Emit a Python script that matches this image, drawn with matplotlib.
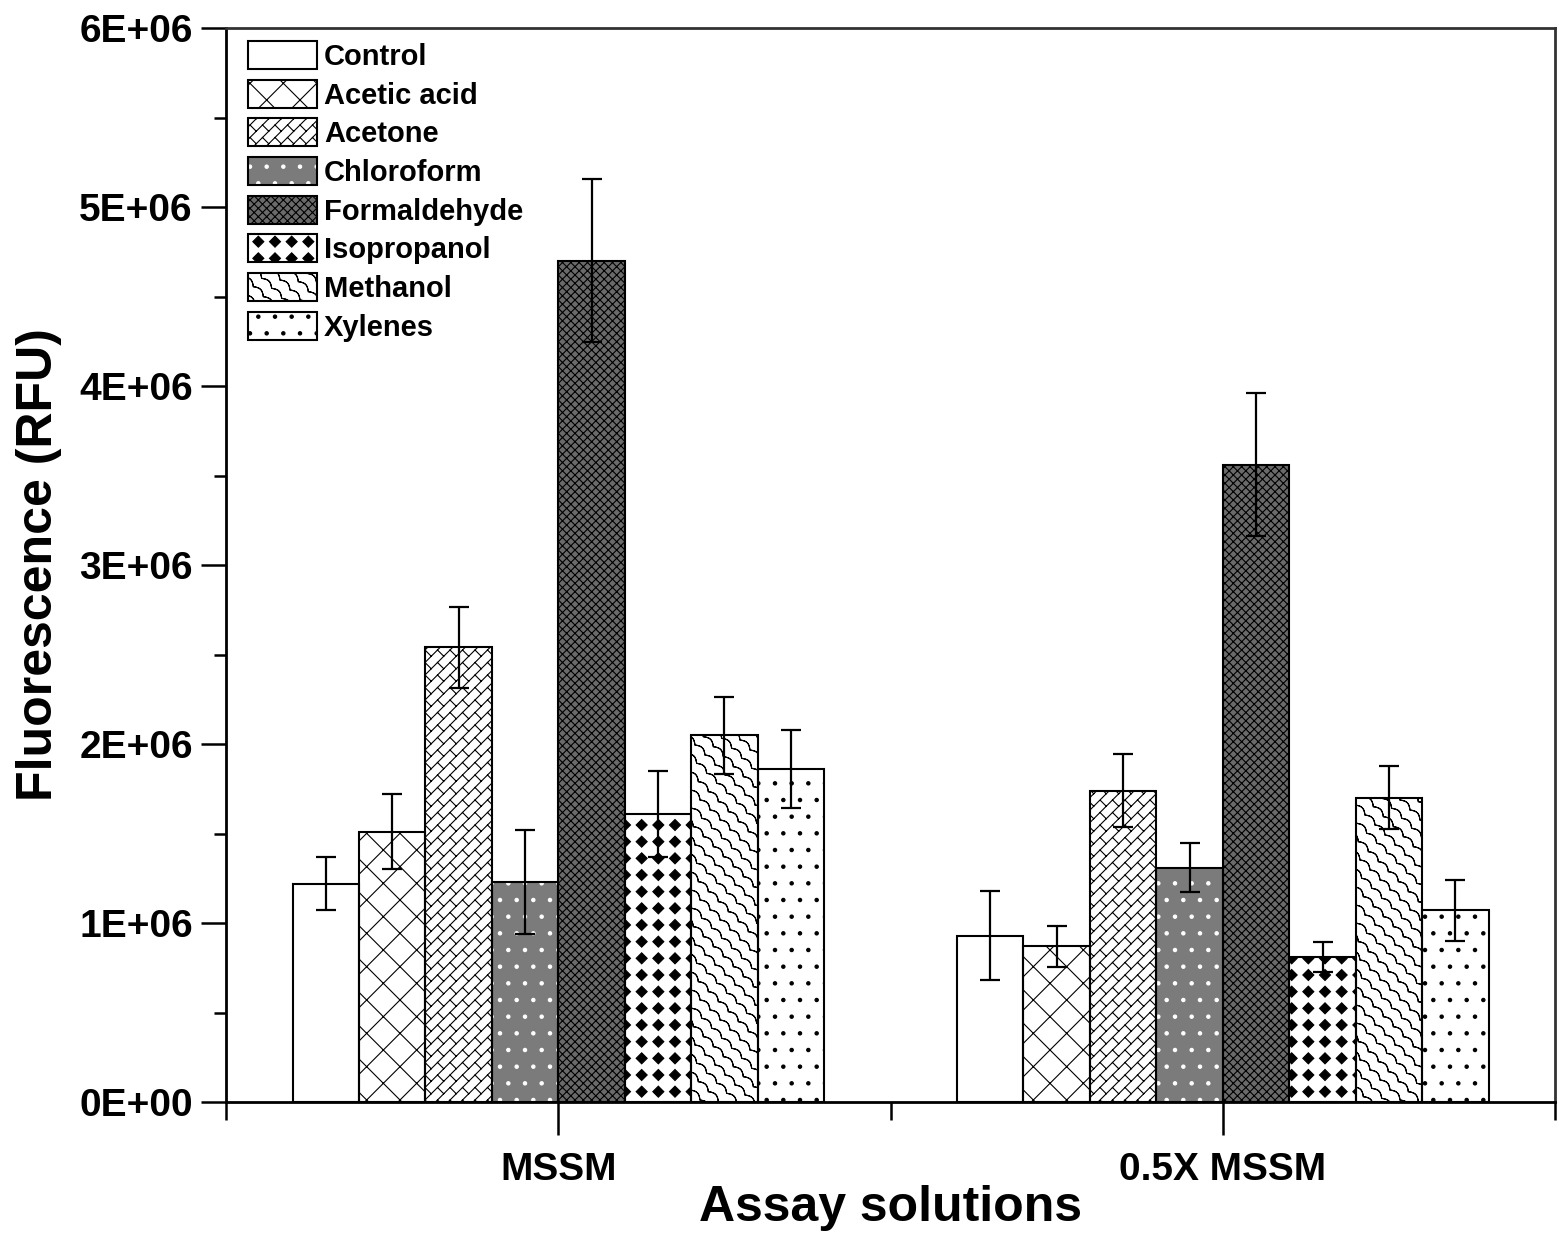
import numpy as np
import matplotlib
matplotlib.use("Agg")
import matplotlib.pyplot as plt
import matplotlib.hatch as mhatch
from matplotlib.path import Path
from matplotlib.ticker import FuncFormatter, MultipleLocator, FixedLocator


# Fluorescence (RFU), mean and error per solvent, for the two assay solutions
solutions = ["MSSM", "0.5X MSSM"]
solvents = ["Control", "Acetic acid", "Acetone", "Chloroform",
            "Formaldehyde", "Isopropanol", "Methanol", "Xylenes"]
mssm = [1.22e6, 1.51e6, 2.54e6, 1.23e6, 4.70e6, 1.61e6, 2.05e6, 1.86e6]
mssm_err = [0.15e6, 0.21e6, 0.225e6, 0.29e6, 0.455e6, 0.24e6, 0.215e6, 0.22e6]
half_mssm = [0.93e6, 0.87e6, 1.74e6, 1.31e6, 3.56e6, 0.81e6, 1.70e6, 1.07e6]
half_mssm_err = [0.25e6, 0.115e6, 0.205e6, 0.135e6, 0.40e6, 0.085e6, 0.175e6, 0.17e6]


# --- extra fill patterns (square diamond grid, wavy lines, diagonal bricks) ---
class DiamondGrid(mhatch.HatchPatternBase):
    """Filled diamonds on a square grid, one grid step per '*'."""
    def __init__(self, hatch, density):
        self.num_rows = hatch.count("*") * density
        self.num_vertices = 5 * self.num_rows ** 2

    def set_vertices_and_codes(self, vertices, codes):
        n = self.num_rows
        step = 1.0 / n
        r = 0.33 * step
        shape = np.array([[0, r], [r, 0], [0, -r], [-r, 0], [0, r]])
        c = (np.arange(n) + 0.5) * step
        cx, cy = np.meshgrid(c, c)
        centres = np.column_stack([cx.ravel(), cy.ravel()])
        vertices[:] = (shape[None, :, :] + centres[:, None, :]).reshape(-1, 2)
        one = [Path.MOVETO, Path.LINETO, Path.LINETO, Path.LINETO, Path.CLOSEPOLY]
        codes[:] = np.tile(one, n * n)


class WavyLines(mhatch.HatchPatternBase):
    """Scalloped lines running top-left to bottom-right, set by 'O'."""
    n_pts = 121

    def __init__(self, hatch, density):
        self.num_lines = hatch.count("O") * density
        self.num_vertices = (2 * self.num_lines + 1) * 2 * self.n_pts if self.num_lines else 0

    def set_vertices_and_codes(self, vertices, codes):
        m = self.num_lines
        u = np.linspace(-1, 1, self.n_pts)
        bump = 0.032 * np.abs(np.sin(np.pi * 5 * u)) / np.sqrt(2)
        parts = []
        for c in np.arange(2 * m + 1) / m:
            x = (c + u) / 2 + bump
            y = (c - u) / 2 + bump
            line = np.column_stack([x, y])
            parts.append(np.concatenate([line, line[::-1]]))
        vertices[:] = np.concatenate(parts)
        one = np.full(2 * self.n_pts, Path.LINETO, dtype=Path.code_type)
        one[0] = Path.MOVETO
        codes[:] = np.tile(one, 2 * m + 1)


class Bricks(mhatch.HatchPatternBase):
    """Diagonal brick courses ('/' rails with short '\\' joints), set by '|'."""
    def __init__(self, hatch, density):
        k = hatch.count("|")
        self.m = 8 * k
        self.q = 4
        if k:
            self.num_vertices = 2 * (2 * self.m + 1) + 2 * (2 * self.m) * (2 * self.q + 1)
        else:
            self.num_vertices = 0

    def set_vertices_and_codes(self, vertices, codes):
        m, q = self.m, self.q
        cs = np.arange(-m, m + 1) / m
        segs = []
        for c in cs:
            segs.append([[c / 2, -c / 2], [(2 + c) / 2, (2 - c) / 2]])
        for i in range(2 * m):
            c0, c1 = cs[i], cs[i + 1]
            shift = 0.5 / q if i % 2 else 0.0
            for j in range(2 * q + 1):
                v = j / q + shift
                segs.append([[(v + c0) / 2, (v - c0) / 2], [(v + c1) / 2, (v - c1) / 2]])
        vertices[:] = np.array(segs).reshape(-1, 2)
        codes[0::2] = Path.MOVETO
        codes[1::2] = Path.LINETO


swap = {mhatch.Stars: DiamondGrid, mhatch.LargeCircles: WavyLines,
        mhatch.VerticalHatch: Bricks}
mhatch._hatch_types = [swap.get(t, t) for t in mhatch._hatch_types]

plt.rcParams["font.family"] = ["Liberation Sans", "DejaVu Sans"]
plt.rcParams["font.weight"] = "bold"
plt.rcParams["axes.labelweight"] = "bold"
plt.rcParams["hatch.linewidth"] = 0.8

faces = ["white", "white", "white", "#7b7b7b", "#6a6a6a", "white", "white", "white"]
hatches = [None, "x", "|", ".", "xxxx", "*", "O", "."]
hatch_colors = ["black", "black", "black", "white", "black", "black", "black", "black"]

fig = plt.figure(figsize=(15.59, 12.36), dpi=100)
ax = fig.add_axes([0.145, 0.1084, 0.8525, 0.8689])

x = np.arange(1, len(solutions) + 1)
width = 0.1
values = np.array([mssm, half_mssm]).T
errors = np.array([mssm_err, half_mssm_err]).T

handles = []
for i, name in enumerate(solvents):
    pos = x + (i - 3.5) * width
    fill = ax.bar(pos, values[i], width, color=faces[i], edgecolor=hatch_colors[i],
                  hatch=hatches[i], linewidth=0, zorder=2)
    edge = ax.bar(pos, values[i], width, facecolor="none", edgecolor="black",
                  linewidth=1.5, zorder=3)
    ax.errorbar(pos, values[i], yerr=errors[i], fmt="none", ecolor="black",
                elinewidth=1.6, capsize=7, capthick=1.6, zorder=4)
    handles.append((fill[0], edge[0]))

ax.set_xlim(0.5, 2.5)
ax.set_ylim(0, 6e6)
ax.set_xticks(x)
ax.set_xticklabels(solutions)
ax.xaxis.set_minor_locator(FixedLocator([0.5, 1.5, 2.5]))
ax.yaxis.set_major_locator(MultipleLocator(1e6))
ax.yaxis.set_minor_locator(MultipleLocator(0.5e6))
ax.yaxis.set_major_formatter(FuncFormatter(lambda v, p: f"{v:.0E}"))

ax.tick_params(axis="both", which="major", labelsize=28, width=1.8, direction="out")
ax.tick_params(axis="y", which="major", length=18, pad=6)
ax.tick_params(axis="y", which="minor", length=9, width=1.8)
ax.tick_params(axis="x", which="major", length=24, pad=12)
ax.tick_params(axis="x", which="minor", length=13, width=1.8)

for side in ["left", "bottom"]:
    ax.spines[side].set_linewidth(2)
for side in ["top", "right"]:
    ax.spines[side].set_linewidth(2)
    ax.spines[side].set_color("#333333")

ax.set_xlabel("Assay solutions", fontsize=36, labelpad=-2)
ax.set_ylabel("Fluorescence (RFU)", fontsize=36, labelpad=12)

ax.legend(handles, solvents, loc="upper left", bbox_to_anchor=(0.0166, 0.988),
          frameon=False, fontsize=21, handlelength=2.35, handleheight=1.1,
          labelspacing=0.3, handletextpad=0.25, borderpad=0, borderaxespad=0)

fig.savefig("out.png", dpi=100)
